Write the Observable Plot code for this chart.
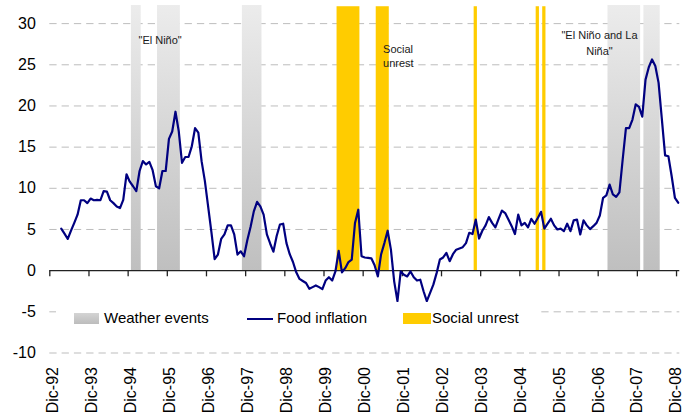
<!DOCTYPE html>
<html>
<head>
<meta charset="utf-8">
<script src="https://cdn.jsdelivr.net/npm/d3@7"></script>
<script src="https://cdn.jsdelivr.net/npm/@observablehq/plot@0.6"></script>
<style>
  body { margin: 0; background: #fff; }
  #wrap { position: relative; width: 682px; height: 420px; font-family: "Liberation Sans", Arial, sans-serif; }
  #legend { position: absolute; left: 56px; top: 302px; width: 482px; height: 34px; background: #fff; }
  .lg { position: absolute; font-size: 15px; color: #000; line-height: 15px; top: 310px; }
  .sw { position: absolute; }
</style>
</head>
<body>
<div id="wrap"></div>
<script>
// ---- data ----
const tickLabels = ["Dic-92","Dic-93","Dic-94","Dic-95","Dic-96","Dic-97","Dic-98","Dic-99","Dic-00","Dic-01","Dic-02","Dic-03","Dic-04","Dic-05","Dic-06","Dic-07","Dic-08"];
const firstMonth = "1993-03"; // first observation of the food inflation series
const foodInflation = [
  // 1993 (Mar-Dec)
  5.1, 4.5, 3.85, 4.85, 5.8, 6.8, 8.55, 8.55, 8.2, 8.75,
  // 1994
  8.55, 8.6, 8.55, 9.65, 9.6, 8.55, 8.2, 7.8, 7.6, 8.6, 11.7, 10.8,
  // 1995
  10.25, 9.65, 12.1, 13.3, 12.9, 13.2, 12.2, 10.25, 10.0, 12.1, 12.1, 16.0,
  // 1996
  16.9, 19.3, 16.95, 13.1, 13.8, 13.8, 15.1, 17.3, 16.75, 13.3, 10.9, 7.8,
  // 1997
  4.7, 1.4, 1.95, 3.85, 4.4, 5.5, 5.5, 4.4, 1.95, 2.35, 1.75, 3.7,
  // 1998
  5.3, 7.2, 8.35, 7.8, 6.8, 4.4, 3.3, 2.3, 4.2, 5.6, 5.7, 3.35,
  // 1999
  2.0, 1.05, -0.2, -1.0, -1.25, -1.5, -2.2, -2.0, -1.8, -2.0, -2.25, -1.2,
  // 2000
  -0.8, -1.2, -0.1, 2.4, -0.2, 0.3, 1.05, 1.35, 5.8, 7.4, 1.75, 1.6,
  // 2001
  1.55, 1.5, 0.65, -0.7, 2.0, 3.35, 4.85, 2.55, -1.3, -3.7, -0.1, -0.5,
  // 2002
  -0.7, -0.1, -0.8, -1.2, -1.1, -2.5, -3.7, -2.7, -1.7, -0.3, 1.35, 1.6,
  // 2003
  2.15, 1.15, 2.0, 2.55, 2.7, 2.85, 3.35, 4.6, 4.45, 6.2, 3.9, 4.85,
  // 2004
  5.5, 6.5, 5.8, 5.25, 6.3, 7.3, 7.0, 6.2, 5.4, 4.45, 6.8, 5.5,
  // 2005
  5.8, 5.25, 6.3, 5.7, 6.4, 7.15, 5.1, 5.7, 6.3, 5.5, 5.0, 5.1,
  // 2006
  4.8, 5.7, 4.8, 6.1, 6.2, 4.4, 6.1, 5.5, 5.05, 5.4, 5.8, 6.7,
  // 2007
  8.85, 9.15, 10.45, 9.25, 8.95, 9.5, 13.5, 17.3, 17.3, 18.35, 20.2, 19.9,
  // 2008
  18.7, 23.2, 24.7, 25.65, 24.85, 22.8, 18.4, 14.0, 13.9, 11.5, 8.85, 8.25
];
// Weather events (first and last month, inclusive)
const weatherStart = ["1995-01", "1995-09", "1997-11", "2007-03", "2008-02"];
const weatherEnd   = ["1995-03", "1996-03", "1998-04", "2007-12", "2008-06"];
// Social unrest episodes (first and last month, inclusive)
const unrestStart = ["2000-04", "2001-04", "2003-10", "2005-05", "2005-07"];
const unrestEnd   = ["2000-10", "2001-07", "2003-10", "2005-05", "2005-07"];
// Annotations (month index counted from Dic-92, value)
const annoText  = ['"El Niño"', '"El Niño and La\nNiña"'];
const annoMonth = [33.8, 168.4];
const annoValue = [28.2, 27.8];
const anno2Text  = ["Social\nunrest"];
const anno2Month = [102.1];
const anno2Value = [26.1];
const yTicks = [-10, -5, 0, 5, 10, 15, 20, 25, 30];
const eventTop = 32.2;

// ---- helpers ----
const monthIndex = s => { const [y, m] = s.split("-").map(Number); return (y - 1992) * 12 + m - 12; };
const k0 = monthIndex(firstMonth);
const food = foodInflation.map((v, i) => ({x: k0 + i + 0.5, v}));
const weather = weatherStart.map((s, i) => ({x1: monthIndex(s), x2: monthIndex(weatherEnd[i]) + 1}));
const unrest = unrestStart.map((s, i) => ({x1: monthIndex(s), x2: monthIndex(unrestEnd[i]) + 1}));
const tickPos = tickLabels.map((d, i) => i * 12);
const labelPos = tickPos.map((d, i) => d + 0.9 - i * 0.06);
const annos = annoText.map((t, i) => ({t, x: annoMonth[i], y: annoValue[i]}));
const annos2 = anno2Text.map((t, i) => ({t, x: anno2Month[i], y: anno2Value[i]}));

const chart = Plot.plot({
  width: 682,
  height: 420,
  marginTop: 5,
  marginBottom: 67.5,
  marginLeft: 49.3,
  marginRight: 2.7,
  style: {fontFamily: '"Liberation Sans", Arial, sans-serif', background: "#fff", color: "#000"},
  x: {domain: [0, 193]},
  y: {domain: [-10, eventTop]},
  marks: [
    Plot.ruleY(yTicks.filter(d => d !== 0), {stroke: "#bdbdbd", strokeWidth: 1, strokeDasharray: "7.3,5"}),
    Plot.rect(weather, {x1: "x1", x2: "x2", y1: () => 0, y2: () => eventTop, fill: "url(#wgrad)"}),
    Plot.rect(unrest, {x1: "x1", x2: "x2", y1: () => 0, y2: () => eventTop - 0.15, fill: "#ffcc00"}),
    Plot.ruleY([0], {stroke: "#222", strokeWidth: 1.3}),
    Plot.ruleX(tickPos, {y1: () => 0, y2: () => -0.75, stroke: "#222", strokeWidth: 1.3}),
    Plot.line(food, {x: "x", y: "v", stroke: "#000080", strokeWidth: 2.2, strokeLinejoin: "round"}),
    Plot.axisY({ticks: yTicks, tickSize: 0, tickPadding: 14, fontSize: 16, tickFormat: d => String(d)}),
    Plot.axisX({ticks: labelPos, tickFormat: (d, i) => tickLabels[i], tickRotate: -90, tickSize: 0, tickPadding: 14, fontSize: 16}),
    Plot.text(annos, {x: "x", y: "y", text: "t", fontSize: 11, lineHeight: 1.45, fill: "#1a1a1a", textAnchor: "middle"}),
    Plot.text(annos2, {x: "x", y: "y", text: "t", fontSize: 11, lineHeight: 1.3, fill: "#1a1a1a", textAnchor: "start"})
  ]
});

// vertical gradient for weather bars
const defs = d3.select(chart).insert("defs", ":first-child");
const g = defs.append("linearGradient").attr("id", "wgrad").attr("x1", 0).attr("y1", 0).attr("x2", 0).attr("y2", 1);
g.append("stop").attr("offset", "0%").attr("stop-color", "#ececec");
g.append("stop").attr("offset", "100%").attr("stop-color", "#bfbfbf");

const wrap = document.getElementById("wrap");
wrap.appendChild(chart);

// legend (HTML overlay inside the plot area)
const legend = document.createElement("div");
legend.id = "legend";
wrap.appendChild(legend);
const items = [
  '<div class="sw" style="left:74px;top:313px;width:25px;height:11px;background:linear-gradient(#d4d4d4,#bcbcbc);"></div>',
  '<div class="lg" style="left:104px;">Weather events</div>',
  '<div class="sw" style="left:247px;top:318px;width:26px;height:2.2px;background:#000080;"></div>',
  '<div class="lg" style="left:277px;">Food inflation</div>',
  '<div class="sw" style="left:403px;top:313px;width:28px;height:11px;background:#ffcc00;"></div>',
  '<div class="lg" style="left:432px;">Social unrest</div>'
];
for (const it of items) wrap.insertAdjacentHTML("beforeend", it);
</script>
</body>
</html>
